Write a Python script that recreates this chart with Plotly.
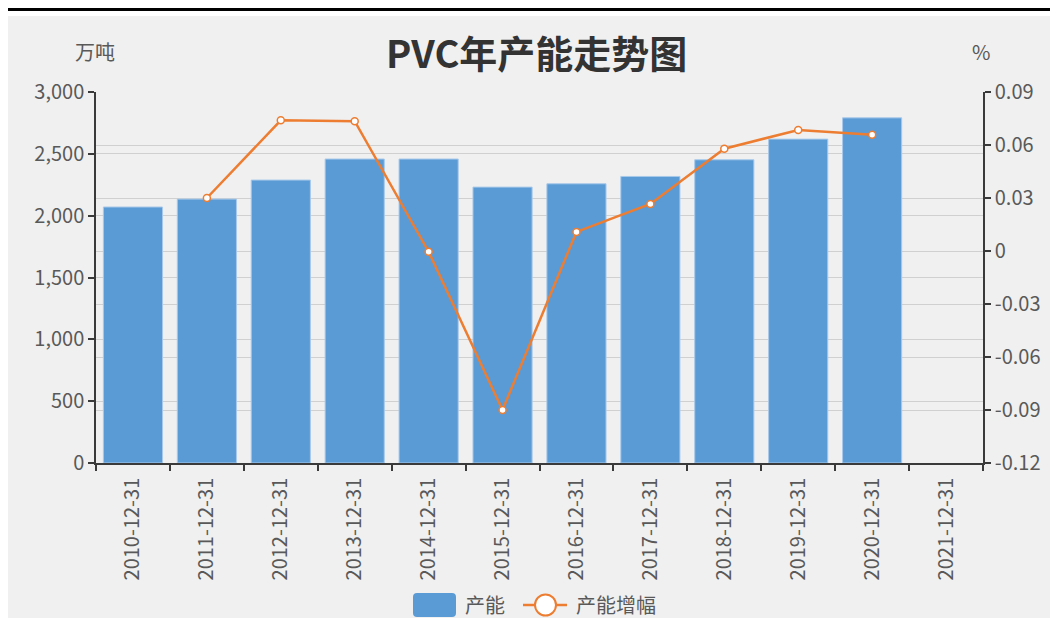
import plotly.graph_objects as go

categories = ["2010-12-31", "2011-12-31", "2012-12-31", "2013-12-31", "2014-12-31", "2015-12-31",
              "2016-12-31", "2017-12-31", "2018-12-31", "2019-12-31", "2020-12-31", "2021-12-31"]
capacity = [2070, 2134, 2288, 2458, 2458, 2231, 2258, 2317, 2452, 2619, 2791, None]
growth = [None, 0.030, 0.074, 0.0735, -0.0004, -0.090, 0.0108, 0.0266, 0.0579, 0.0685, 0.0658, None]

left_ticks = [0, 500, 1000, 1500, 2000, 2500, 3000]
right_ticks = [-0.12, -0.09, -0.06, -0.03, 0, 0.03, 0.06, 0.09]
right_tick_text = ["-0.12", "-0.09", "-0.06", "-0.03", "0", "0.03", "0.06", "0.09"]

title_text = "PVC年产能走势图"
bar_name = "产能"
line_name = "产能增幅"
left_unit = "万吨"
right_unit = "%"

FONT = "Noto Sans CJK SC, Microsoft YaHei, sans-serif"
BAR_COLOR = "#5b9bd5"
LINE_COLOR = "#ed7d31"
TICK_COLOR = "#595959"
AXIS_COLOR = "#3a3a3a"
GRID_COLOR = "#d0d0d0"
FS = 20

fig = go.Figure()
fig.add_trace(go.Bar(
    x=categories, y=capacity, name=bar_name,
    marker=dict(color=BAR_COLOR, line=dict(color="#a8c9ea", width=1)),
    yaxis="y", showlegend=False,
))
fig.add_trace(go.Scatter(
    x=categories, y=growth, name=line_name, mode="lines+markers",
    line=dict(color=LINE_COLOR, width=2.5),
    marker=dict(symbol="circle", size=7, color="white", line=dict(color=LINE_COLOR, width=1.5)),
    yaxis="y2", showlegend=False, connectgaps=False,
))

# page offset of 8px (body margin) is compensated: figure spans page x 8..1058, y 8..618
fig.update_layout(
    width=1050, height=610,
    margin=dict(l=88, r=75, t=84, b=155),
    paper_bgcolor="white",
    plot_bgcolor="rgba(0,0,0,0)",
    font=dict(family=FONT, size=FS, color=TICK_COLOR),
    bargap=0.2,
    xaxis=dict(
        type="category", tickson="boundaries", ticks="outside", ticklen=6,
        tickcolor=AXIS_COLOR, tickwidth=1.5,
        showline=True, linecolor=AXIS_COLOR, linewidth=1.5,
        tickangle=-90, tickfont=dict(size=FS, color=TICK_COLOR),
        ticklabelstandoff=5,
        showgrid=False, zeroline=False,
        range=[-0.5, len(categories) - 0.5],
    ),
    yaxis=dict(
        range=[0, 3000], tickvals=left_ticks, tickformat=",",
        ticks="outside", ticklen=6, tickcolor=AXIS_COLOR, tickwidth=1.5,
        showline=True, linecolor=AXIS_COLOR, linewidth=1.5,
        showgrid=True, gridcolor=GRID_COLOR, gridwidth=1, zeroline=False,
        tickfont=dict(size=FS, color=TICK_COLOR),
    ),
    yaxis2=dict(
        overlaying="y", side="right", range=[-0.12, 0.09],
        tickvals=right_ticks, ticktext=right_tick_text,
        ticks="outside", ticklen=6, tickcolor=AXIS_COLOR, tickwidth=1.5,
        showline=True, linecolor=AXIS_COLOR, linewidth=1.5,
        showgrid=True, gridcolor=GRID_COLOR, gridwidth=1, zeroline=False,
        tickfont=dict(size=FS, color=TICK_COLOR),
    ),
)

# helpers: page pixel -> paper coordinates (plot area spans page x 96..983, y 92..463)
X0, X1, Y0, Y1 = 96.0, 983.0, 463.0, 92.0


def px(xp):
    return (xp - X0) / (X1 - X0)


def py(yp):
    return (Y0 - yp) / (Y0 - Y1)


# background panel and top rule
fig.add_shape(type="rect", xref="paper", yref="paper", layer="below",
              x0=px(7), x1=px(1070), y0=py(630), y1=py(16),
              fillcolor="#f0f0f0", line=dict(width=0))
fig.add_shape(type="line", xref="paper", yref="paper", layer="above",
              x0=px(8), x1=px(1070), y0=py(9.6), y1=py(9.6),
              line=dict(color="black", width=3))

# title and unit labels
fig.add_annotation(text=f"<b>{title_text}</b>", xref="paper", yref="paper",
                   x=px(536), y=py(52), showarrow=False,
                   font=dict(size=38, color="#333333", family=FONT), xanchor="center", yanchor="middle")
fig.add_annotation(text=left_unit, xref="paper", yref="paper",
                   x=px(95), y=py(52), showarrow=False,
                   font=dict(size=FS, color=TICK_COLOR, family=FONT), xanchor="center", yanchor="middle")
fig.add_annotation(text=right_unit, xref="paper", yref="paper",
                   x=px(981), y=py(52), showarrow=False,
                   font=dict(size=FS, color=TICK_COLOR, family=FONT), xanchor="center", yanchor="middle")

# custom legend
fig.add_shape(type="path", xref="paper", yref="paper",
              path=(f"M {px(417)},{py(593)} L {px(452)},{py(593)} Q {px(456)},{py(593)} {px(456)},{py(597)} "
                    f"L {px(456)},{py(613)} Q {px(456)},{py(617)} {px(452)},{py(617)} L {px(417)},{py(617)} "
                    f"Q {px(413)},{py(617)} {px(413)},{py(613)} L {px(413)},{py(597)} Q {px(413)},{py(593)} {px(417)},{py(593)} Z"),
              fillcolor=BAR_COLOR, line=dict(width=0))
fig.add_annotation(text=bar_name, xref="paper", yref="paper", x=px(463), y=py(604),
                   showarrow=False, xanchor="left", yanchor="middle",
                   font=dict(size=FS, color=TICK_COLOR, family=FONT))
fig.add_shape(type="line", xref="paper", yref="paper", x0=px(523), x1=px(567), y0=py(605), y1=py(605),
              line=dict(color=LINE_COLOR, width=2.5))
fig.add_shape(type="circle", xref="paper", yref="paper", x0=px(535), x1=px(556), y0=py(594.5), y1=py(615.5),
              fillcolor="white", line=dict(color=LINE_COLOR, width=2))
fig.add_annotation(text=line_name, xref="paper", yref="paper", x=px(574), y=py(604),
                   showarrow=False, xanchor="left", yanchor="middle",
                   font=dict(size=FS, color=TICK_COLOR, family=FONT))

fig.write_html("out.html")
